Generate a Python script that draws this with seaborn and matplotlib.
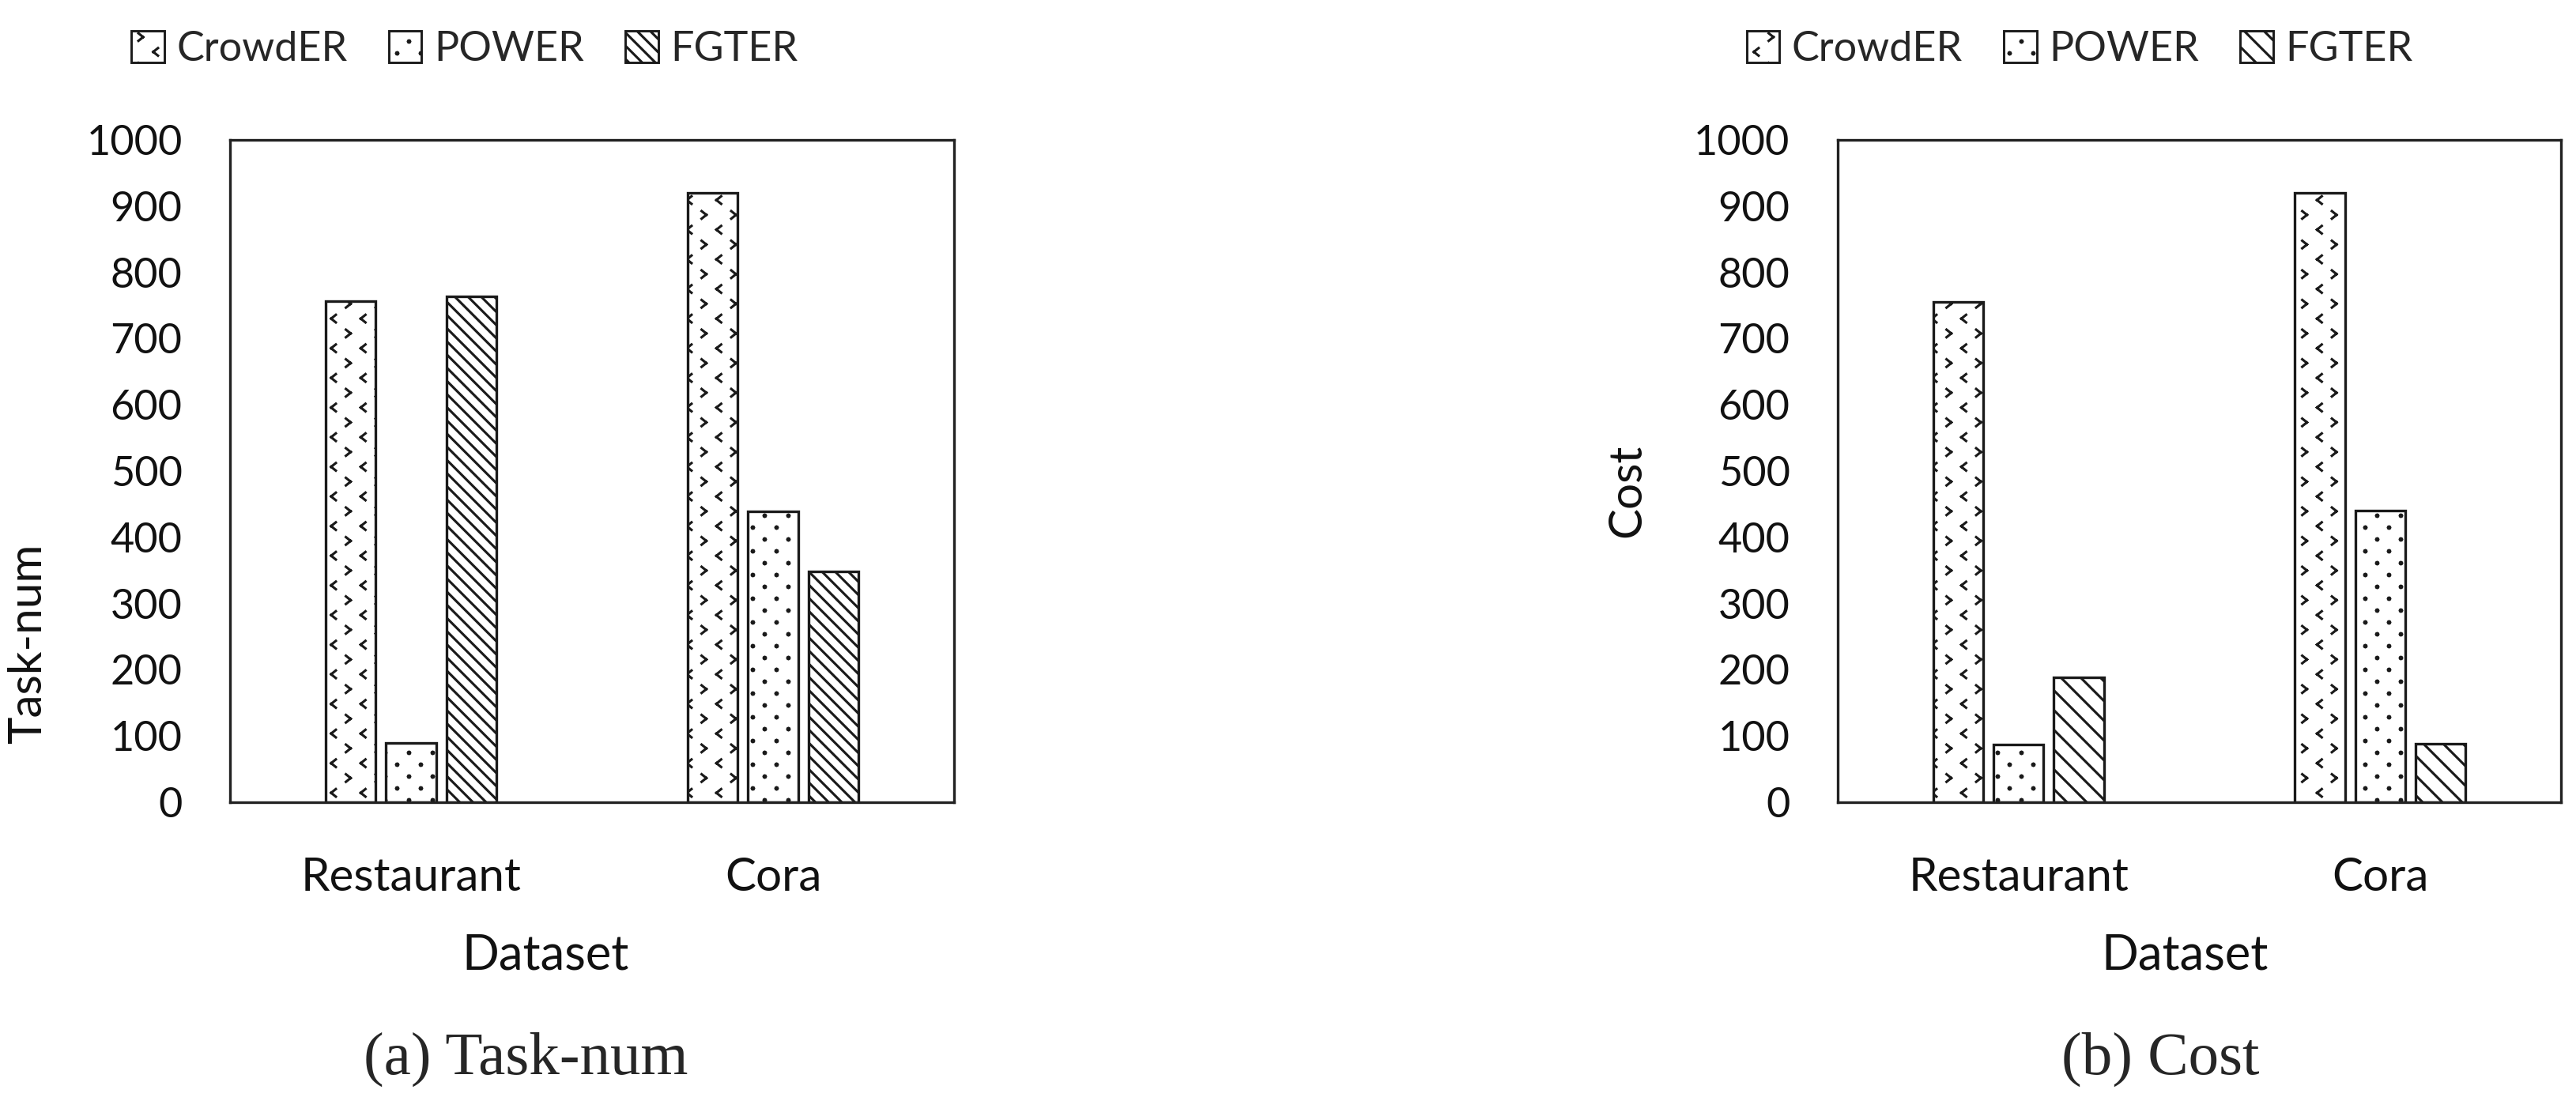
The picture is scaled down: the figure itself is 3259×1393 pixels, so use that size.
import numpy as np
import pandas as pd
import matplotlib
matplotlib.use("Agg")
import matplotlib.pyplot as plt
import matplotlib.hatch as mhatch
from matplotlib.path import Path
from matplotlib.patches import Patch
import seaborn as sns

# ---------------- data ----------------
datasets = ["Restaurant", "Cora"]
methods = ["CrowdER", "POWER", "FGTER"]
task_crowder = [757, 920]
task_power = [89, 439]
task_fgter = [764, 348]
cost_crowder = [755, 920]
cost_power = [87, 440]
cost_fgter = [189, 88]
yticks = [0, 100, 200, 300, 400, 500, 600, 700, 800, 900, 1000]

# ---------------- custom hatches ----------------
class ChevronHatch(mhatch.HatchPatternBase):
    """small '<' and '>' marks on a staggered lattice (triggered by 'O')"""
    def __init__(self, hatch, density):
        k = hatch.count('O') if hatch else 0
        self.n = 4 * k
        self.num_vertices = self.n * self.n * 2 * 4

    def set_vertices_and_codes(self, vertices, codes):
        n = self.n
        cell = 1.0 / n
        w, h = 0.040, 0.032
        verts = []
        for i in range(n):
            for j in range(n):
                for fx, fy, d in ((0.25, 0.25, -1), (0.75, 0.75, 1)):
                    cx = (i + fx) * cell
                    cy = (j + fy) * cell
                    tip = (cx + d * w / 2, cy)
                    top = (cx - d * w / 2, cy + h)
                    bot = (cx - d * w / 2, cy - h)
                    verts += [top, tip, tip, bot]
        vertices[:] = np.array(verts)
        codes[:] = [Path.MOVETO, Path.LINETO] * (len(verts) // 2)


class DotHatch(mhatch.HatchPatternBase):
    """staggered small filled dots (triggered by '*')"""
    def __init__(self, hatch, density):
        k = hatch.count('*') if hatch else 0
        self.nx = 5 * k
        self.ny = 10 * k
        self.num_vertices = self.nx * self.ny * 9

    def set_vertices_and_codes(self, vertices, codes):
        r = 1.4 / 150
        ang = np.linspace(0, 2 * np.pi, 8, endpoint=False)
        circ = np.c_[np.cos(ang), np.sin(ang)] * r
        verts = []
        cds = []
        for j in range(self.ny):
            for i in range(self.nx):
                cx = (i + 0.25 + 0.5 * (j % 2)) / self.nx
                cy = (j + 0.5) / self.ny
                pts = circ + [cx, cy]
                verts += list(pts) + [pts[0]]
                cds += [Path.MOVETO] + [Path.LINETO] * 7 + [Path.CLOSEPOLY]
        vertices[:] = np.array(verts)
        codes[:] = cds


mhatch._hatch_types = [t for t in mhatch._hatch_types
                       if t not in (mhatch.LargeCircles, mhatch.Stars)] + [ChevronHatch, DotHatch]

# ---------------- style ----------------
sns.set_style("white")
plt.rcParams['font.family'] = ['Lato', 'DejaVu Sans']
plt.rcParams['hatch.linewidth'] = 1.5
plt.rcParams['hatch.color'] = 'black'

DPI = 150
fig = plt.figure(figsize=(3259 / DPI, 1393 / DPI), dpi=DPI)
ax1 = fig.add_axes([0.0893, 0.2714, 0.2811, 0.6015])
ax2 = fig.add_axes([0.7134, 0.2714, 0.2808, 0.6015])

def make_df(a, b, c):
    rows = []
    for m, vals in zip(methods, (a, b, c)):
        for d, v in zip(datasets, vals):
            rows.append({"Dataset": d, "Method": m, "Value": v})
    return pd.DataFrame(rows)

panels = [
    (ax1, make_df(task_crowder, task_power, task_fgter), "Task-num",
     ['O', '*', '\\\\\\'], (-0.25, 0.239), (0.436, -0.198)),
    (ax2, make_df(cost_crowder, cost_power, cost_fgter), "Cost",
     ['O', '*', '\\\\'], (-0.262, 0.47), (0.48, -0.198)),
]

for ax, df, ylab, hatches, ylc, xlc in panels:
    sns.barplot(data=df, x="Dataset", y="Value", hue="Method",
                hue_order=methods, order=datasets,
                palette=["white"] * 3, saturation=1, width=0.5, gap=0.17,
                edgecolor="#1a1a1a", linewidth=1.6, legend=False, ax=ax)
    for cont, h in zip(ax.containers, hatches):
        for bar in cont:
            bar.set_hatch(h)
    ax.set_ylim(0, 1000)
    ax.set_yticks(yticks)
    ax.tick_params(axis='y', length=0, pad=29, labelsize=25, colors='#111111')
    ax.tick_params(axis='x', length=0, pad=33, labelsize=28, colors='#111111')
    ax.set_ylabel(ylab, fontsize=28, color='#111111')
    ax.yaxis.set_label_coords(*ylc)
    ax.set_xlabel("Dataset", fontsize=29.5, color='#111111')
    ax.xaxis.set_label_coords(*xlc)
    for sp in ax.spines.values():
        sp.set_visible(True)
        sp.set_color('#222222')
        sp.set_linewidth(1.6)

handles_l = [Patch(facecolor='white', edgecolor='#1a1a1a', hatch=h, linewidth=1.4)
             for h in ['O', '*', '\\\\\\']]
handles_r = [Patch(facecolor='white', edgecolor='#1a1a1a', hatch=h, linewidth=1.4)
             for h in ['O', '*', '\\\\']]
for hs, x0 in ((handles_l, 0.051), (handles_r, 0.678)):
    fig.legend(hs, methods, loc='center left', bbox_to_anchor=(x0, 0.955),
               ncol=3, frameon=False, fontsize=25, handlelength=0.8,
               handleheight=0.8, handletextpad=0.3, columnspacing=1.0,
               borderaxespad=0, borderpad=0)

fig.text(0.204, 0.038, "(a) Task-num", ha='center', va='center',
         fontsize=37, family=['Liberation Serif', 'DejaVu Serif'])
fig.text(0.8386, 0.038, "(b) Cost", ha='center', va='center',
         fontsize=37, family=['Liberation Serif', 'DejaVu Serif'])

fig.savefig("out.png", dpi=DPI)
